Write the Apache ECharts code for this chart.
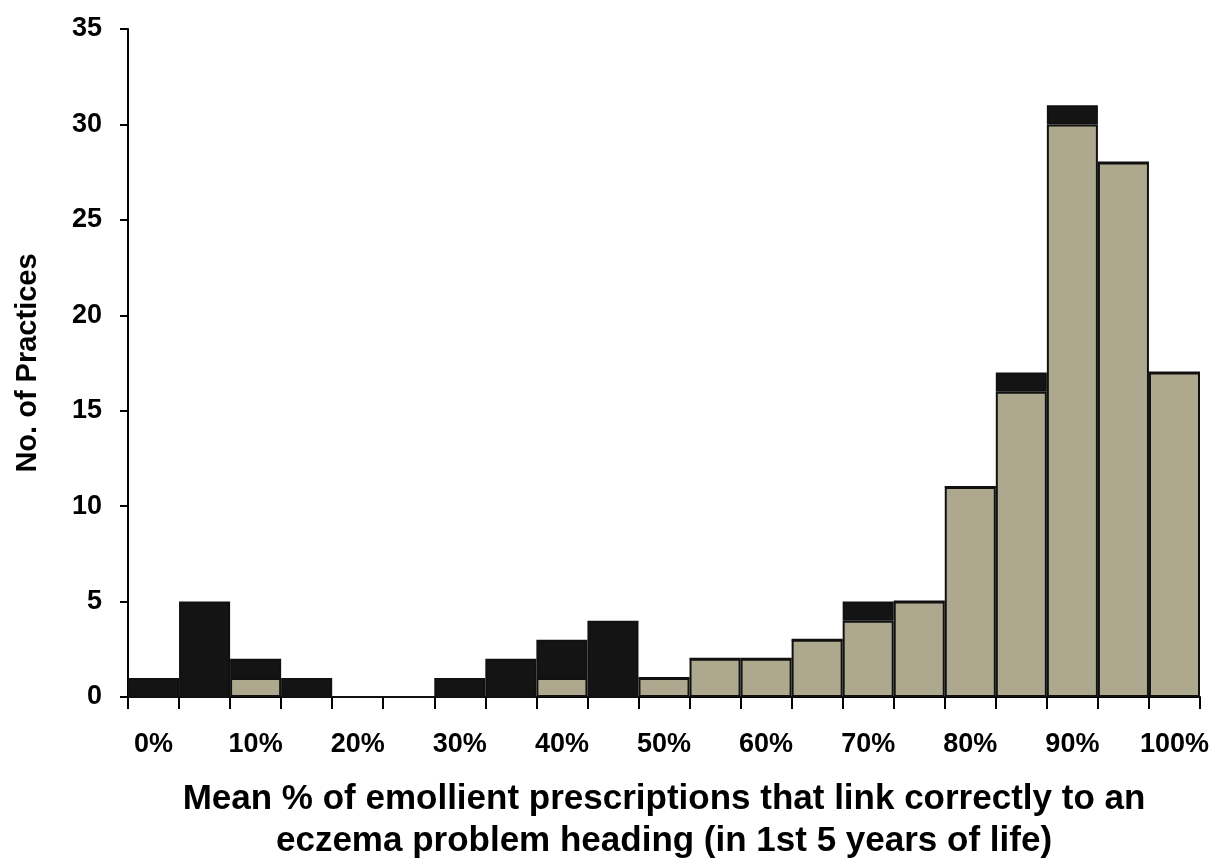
<!DOCTYPE html>
<html>
<head>
<meta charset="utf-8">
<script src="https://cdn.jsdelivr.net/npm/echarts@6/dist/echarts.min.js"></script>
<style>
html,body{margin:0;padding:0;background:#fff;overflow:hidden;}
#chart{width:100vw;height:100vh;}
</style>
</head>
<body>
<div id="chart"></div>
<script>
const categories = ["0%","5%","10%","15%","20%","25%","30%","35%","40%","45%","50%","55%","60%","65%","70%","75%","80%","85%","90%","95%","100%"];
const grayValues  = [0,0,1,0,0,0,0,0,1,0,1,2,2,3,4,5,11,16,30,28,17];
const blackValues = [1,5,1,1,0,0,1,2,2,4,0,0,0,0,1,0,0,1,1,0,0];
const yTicks = {min:0, max:35, interval:5};

const chart = echarts.init(document.getElementById('chart'));
const font = '"Liberation Sans", Arial, sans-serif';
chart.setOption({
  animation:false,
  backgroundColor:'#ffffff',
  grid:{left:128, right:13, top:29, bottom:143, containLabel:false},
  xAxis:{
    type:'category',
    data:categories,
    name:'Mean % of emollient prescriptions that link correctly to an\neczema problem heading (in 1st 5 years of life)',
    nameLocation:'middle',
    nameGap:81,
    nameTextStyle:{fontFamily:font, fontWeight:'bold', fontSize:35, color:'#000', lineHeight:42},
    axisLine:{lineStyle:{color:'#000', width:2}},
    axisTick:{show:true, interval:0, length:12, lineStyle:{color:'#000', width:2}},
    axisLabel:{interval:1, fontFamily:font, fontWeight:'bold', fontSize:27, color:'#000', margin:34},
    splitLine:{show:false}
  },
  yAxis:{
    type:'value',
    min:yTicks.min, max:yTicks.max, interval:yTicks.interval,
    name:'No. of Practices',
    nameLocation:'middle',
    nameGap:86,
    nameTextStyle:{fontFamily:font, fontWeight:'bold', fontSize:29, color:'#000'},
    axisLine:{show:true, lineStyle:{color:'#000', width:2}},
    axisTick:{show:true, length:8, lineStyle:{color:'#000', width:2}},
    axisLabel:{fontFamily:font, fontWeight:'bold', fontSize:27, color:'#000', margin:26},
    splitLine:{show:false}
  },
  series:[
    {type:'bar', stack:'a', data:grayValues, barCategoryGap:'0%',
     itemStyle:{color:'#aea88e', borderColor:'#111', borderWidth:2}},
    {type:'bar', stack:'a', data:blackValues, barCategoryGap:'0%',
     itemStyle:{color:'#141414', borderColor:'#111', borderWidth:2}}
  ]
});
</script>
</body>
</html>
